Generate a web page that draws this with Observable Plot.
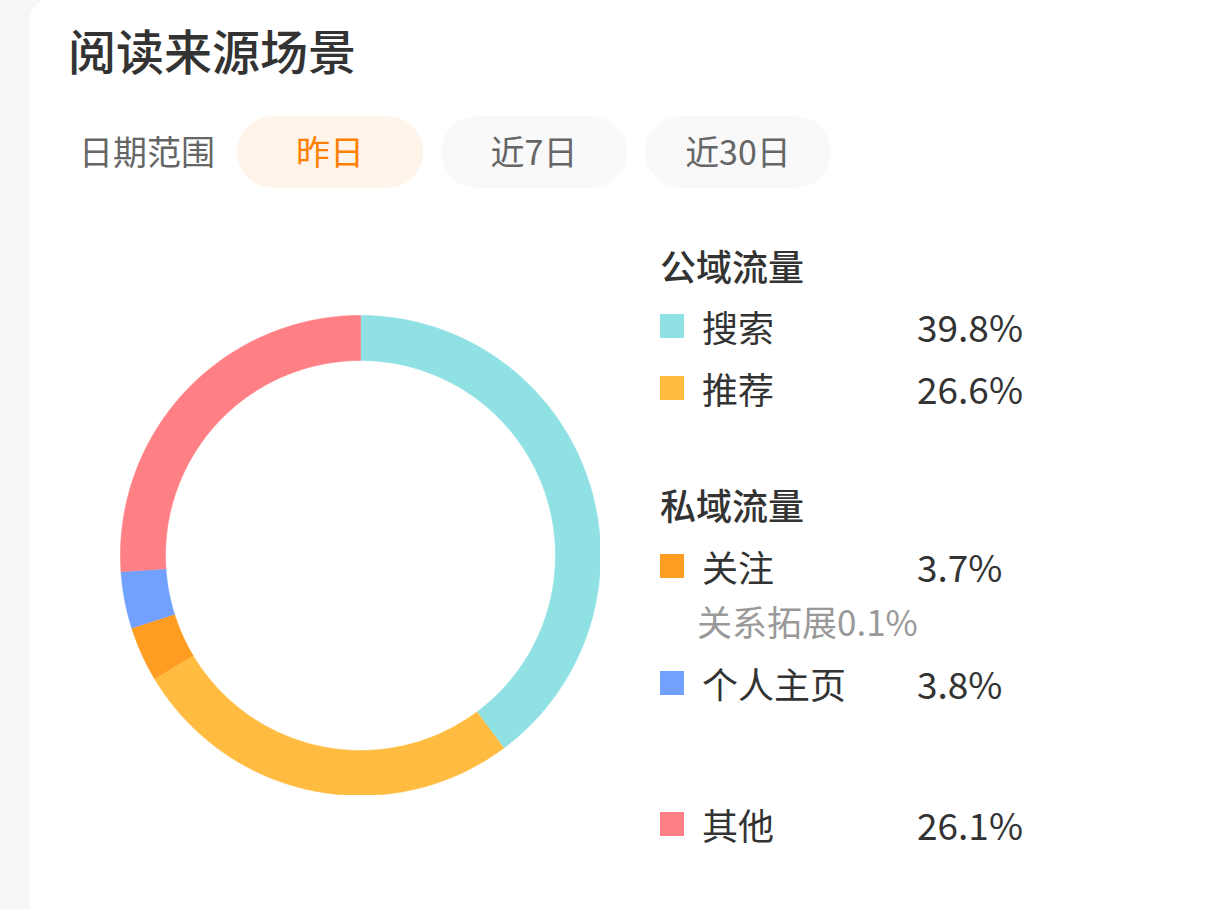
<!DOCTYPE html>
<html>
<head>
<meta charset="utf-8">
<script src="https://cdn.jsdelivr.net/npm/d3@7"></script>
<script src="https://cdn.jsdelivr.net/npm/@observablehq/plot@0.6"></script>
<style>
  html, body { margin: 0; padding: 0; width: 1206px; height: 909px; overflow: hidden; background: #f7f7f7; }
  body { font-family: "Noto Sans CJK SC", "Noto Sans", sans-serif; position: relative; }
  #card { position: absolute; left: 30px; top: 0; right: 0; bottom: 0; background: #fff; border-top-left-radius: 18px; }
  .abs { position: absolute; white-space: nowrap; }
  .title { left: 68px; top: 19px; font-size: 48px; line-height: 60px; font-weight: 500; color: #333; }
  .range { left: 79px; top: 131px; font-size: 34px; line-height: 40px; color: #666; }
  .pill { height: 72px; width: 186px; border-radius: 36px; top: 116px; text-align: center; line-height: 70px; font-size: 34px; background: #f9f9f9; color: #666; }
  .pill.on { background: #fff4ea; color: #ff8000; }
  .sec { left: 660px; font-size: 36px; line-height: 40px; font-weight: 500; color: #333; }
  .sq { left: 660px; width: 24px; height: 24px; }
  .lab { left: 702px; font-size: 36px; line-height: 40px; color: #333; }
  .pct { left: 917px; font-size: 37px; line-height: 40px; color: #333; }
  .sub { left: 697px; font-size: 35px; line-height: 40px; color: #999; }
  #donut { position: absolute; left: 120px; top: 315px; }
</style>
</head>
<body>
<div id="card"></div>
<div id="ui"></div>
<div id="donut"></div>
<script>
// ---- data ----
const categories = ["搜索", "推荐", "关注", "个人主页", "其他"];
const values = [39.8, 26.6, 3.7, 3.8, 26.1];
const colors = ["#8fe1e4", "#ffbc40", "#ff9c22", "#71a0ff", "#ff8084"];
const groups = ["公域流量", "公域流量", "私域流量", "私域流量", "其他"];
const subCategories = ["关系拓展"];
const subValues = [0.1];
const subParent = ["关注"];
const titleText = "阅读来源场景";
const rangeLabel = "日期范围";
const rangeOptions = ["昨日", "近7日", "近30日"];
const rangeSelected = "昨日";

// ---- header ----
const ui = document.getElementById("ui");
function add(cls, text, style) {
  const d = document.createElement("div");
  d.className = "abs " + cls;
  if (text != null) d.textContent = text;
  Object.assign(d.style, style || {});
  ui.appendChild(d);
  return d;
}
add("title", titleText);
add("range", rangeLabel);
rangeOptions.forEach((t, i) => {
  add("pill" + (t === rangeSelected ? " on" : ""), t, {left: (237 + i * 204) + "px"});
});

// ---- legend ----
const rowCenters = {"搜索": 328, "推荐": 390, "关注": 568, "个人主页": 685, "其他": 826};
const secCenters = {"公域流量": 267, "私域流量": 506};
Object.entries(secCenters).forEach(([g, c]) => add("sec", g, {top: (c - 22) + "px"}));
categories.forEach((c, i) => {
  const y = rowCenters[c];
  add("sq", null, {top: (y - 14) + "px", background: colors[i]});
  add("lab", c, {top: (y - 22) + "px"});
  add("pct", values[i].toFixed(1) + "%", {top: (y - 22) + "px"});
});
subCategories.forEach((s, i) => {
  add("sub", s + subValues[i].toFixed(1) + "%", {top: (623 - 22) + "px"});
});

// ---- donut ----
const inner = 195 / 240;
const arcs = d3.pie().sort(null).value(d => d.value)(categories.map((c, i) => ({name: c, value: values[i]})));
const pts = [];
arcs.forEach(a => {
  const n = Math.max(8, Math.ceil((a.endAngle - a.startAngle) / 0.01));
  for (let k = 0; k <= n; k++) {
    const t = a.startAngle + (a.endAngle - a.startAngle) * k / n;
    pts.push({name: a.data.name, x: Math.sin(t), y: Math.cos(t)});
  }
  for (let k = n; k >= 0; k--) {
    const t = a.startAngle + (a.endAngle - a.startAngle) * k / n;
    pts.push({name: a.data.name, x: inner * Math.sin(t), y: inner * Math.cos(t)});
  }
});

const chart = Plot.plot({
  width: 480,
  height: 480,
  margin: 0,
  x: {domain: [-1, 1], axis: null},
  y: {domain: [-1, 1], axis: null},
  color: {domain: categories, range: colors},
  marks: [
    Plot.line(pts, {x: "x", y: "y", z: "name", fill: "name", stroke: "name", strokeWidth: 0.6, curve: "linear"})
  ]
});
document.getElementById("donut").appendChild(chart);
</script>
</body>
</html>
